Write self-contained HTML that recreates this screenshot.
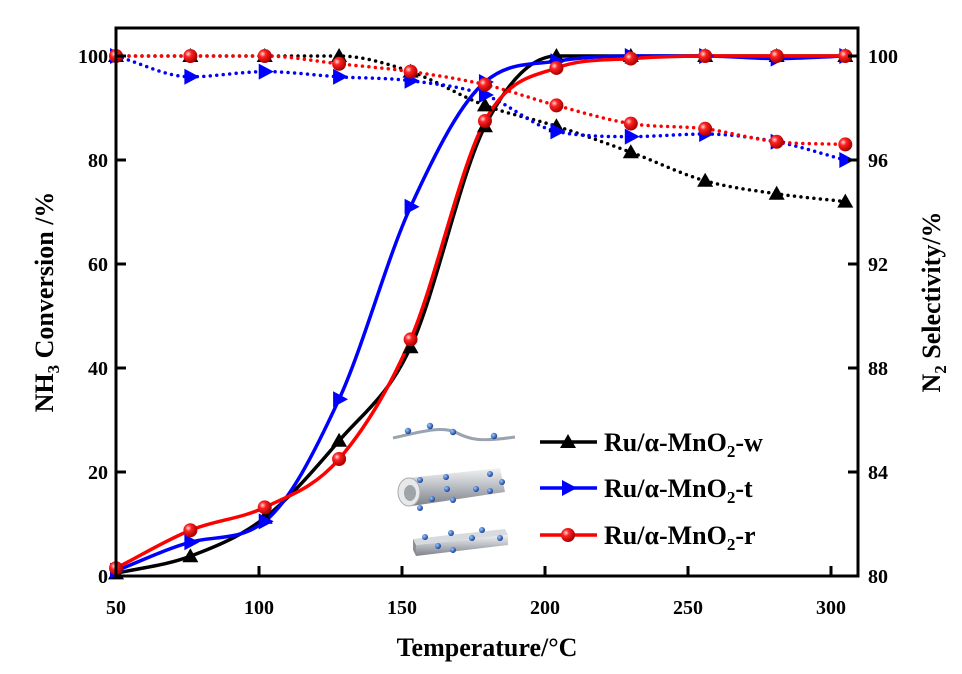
<!DOCTYPE html>
<html><head><meta charset="utf-8"><style>
body{margin:0;background:#fff}
svg text{font-family:"Liberation Serif",serif;font-weight:bold;fill:#000}
</style></head><body>
<svg id="c" width="962" height="669" viewBox="0 0 962 669">
<defs>
<radialGradient id="rg" cx="35%" cy="35%" r="65%"><stop offset="0" stop-color="#fdd"/><stop offset="0.35" stop-color="#f22"/><stop offset="1" stop-color="#a00"/></radialGradient>
<radialGradient id="bg" cx="35%" cy="35%" r="65%"><stop offset="0" stop-color="#9cf"/><stop offset="1" stop-color="#1a3f9a"/></radialGradient>
<linearGradient id="tube" x1="0" y1="0" x2="0" y2="1"><stop offset="0" stop-color="#f2f2f2"/><stop offset="0.5" stop-color="#b8bcc2"/><stop offset="1" stop-color="#7d8188"/></linearGradient>
</defs>
<g id="plot"></g>
</svg>
<script>
const temps=[50,76,102,128,153,179,204,230,256,281,305];
const convW=[0.5,3.8,11.2,26,44,86.5,100,100,100,100,100];
const convT=[1,6.5,10.5,34,71,95,99,100,100,99.5,100];
const convR=[1.5,8.8,13.2,22.5,45.5,87.5,97.7,99.5,100,100,100];
const selW=[100,100,100,100,99.4,98.1,97.3,96.3,95.2,94.7,94.4];
const selT=[100,99.2,99.4,99.2,99.05,98.5,97.1,96.9,97.0,96.7,96.0];
const selR=[100,100,100,99.7,99.4,98.9,98.1,97.4,97.2,96.7,96.6];
const xTicks=[50,100,150,200,250,300];
const yTicks=[0,20,40,60,80,100];
const y2Ticks=[80,84,88,92,96,100];
const legendLabels=["Ru/α-MnO","Ru/α-MnO","Ru/α-MnO"];
const legendSuffix=["-w","-t","-r"];

const L=116,R=858,T=28,B=576;
const sx=v=>116+(v-50)*(831-116)/250;
const sy=v=>B-v*5.2;
const sy2=v=>B-(v-80)*26;
const NS="http://www.w3.org/2000/svg";
const g=document.getElementById('plot');
function mk(tag,at,parent){const e=document.createElementNS(NS,tag);for(const k in at)e.setAttribute(k,at[k]);(parent||g).appendChild(e);return e;}
function smooth(pts){let d=`M${pts[0][0]},${pts[0][1]}`;for(let i=0;i<pts.length-1;i++){const p0=pts[i-1]||pts[i],p1=pts[i],p2=pts[i+1],p3=pts[i+2]||p2;const c1=[p1[0]+(p2[0]-p0[0])/6,p1[1]+(p2[1]-p0[1])/6],c2=[p2[0]-(p3[0]-p1[0])/6,p2[1]-(p3[1]-p1[1])/6];d+=`C${c1[0]},${c1[1]} ${c2[0]},${c2[1]} ${p2[0]},${p2[1]}`;}return d;}
// monotone cubic (Fritsch-Carlson) path, no overshoot
function monotone(pts){
  const n=pts.length,dx=[],m=[],t=[];
  for(let i=0;i<n-1;i++){dx[i]=pts[i+1][0]-pts[i][0];m[i]=(pts[i+1][1]-pts[i][1])/dx[i];}
  t[0]=m[0];t[n-1]=m[n-2];
  for(let i=1;i<n-1;i++){t[i]=(m[i-1]*m[i]<=0)?0:(m[i-1]+m[i])/2;}
  for(let i=0;i<n-1;i++){if(m[i]===0){t[i]=0;t[i+1]=0;continue;}const a=t[i]/m[i],b=t[i+1]/m[i],s=a*a+b*b;if(s>9){const k=3/Math.sqrt(s);t[i]=k*a*m[i];t[i+1]=k*b*m[i];}}
  let d=`M${pts[0][0]},${pts[0][1]}`;
  for(let i=0;i<n-1;i++){const h=dx[i]/3;d+=`C${pts[i][0]+h},${pts[i][1]+t[i]*h} ${pts[i+1][0]-h},${pts[i+1][1]-t[i+1]*h} ${pts[i+1][0]},${pts[i+1][1]}`;}
  return d;
}

function marker(type,x,y,color,name){
  let e;
  if(type==='tri'){e=mk('polygon',{points:`${x},${y-8} ${x-8},${y+6} ${x+8},${y+6}`,fill:'#000'});}
  else if(type==='rtri'){e=mk('polygon',{points:`${x+9},${y} ${x-6},${y-8} ${x-6},${y+8}`,fill:'#00f'});}
  else {e=mk('circle',{cx:x,cy:y,r:7,fill:'url(#rg)'});}
  
  
}
const series=[
 {c:convW,s:selW,col:'#000',m:'tri',n:'w'},
 {c:convT,s:selT,col:'#00f',m:'rtri',n:'t'},
 {c:convR,s:selR,col:'#f00',m:'circ',n:'r'}];
series.forEach(S=>{
  const p=mk('path',{d:monotone(temps.map((t,i)=>[sx(t),sy2(S.s[i])])),fill:'none',stroke:S.col,'stroke-width':3.5,'stroke-dasharray':'0 6.5','stroke-linecap':'round'});
  
  
});
series.forEach(S=>{
  const p=mk('path',{d:monotone(temps.map((t,i)=>[sx(t),sy(S.c[i])])),fill:'none',stroke:S.col,'stroke-width':3.5});
  
  
});
series.forEach(S=>{
  temps.forEach((t,i)=>{marker(S.m,sx(t),sy2(S.s[i]),S.col,'selectivity-point-'+S.n);});
  temps.forEach((t,i)=>{marker(S.m,sx(t),sy(S.c[i]),S.col,'conversion-point-'+S.n);});
});
const fr=mk('rect',{x:L,y:T,width:R-L,height:B-T,fill:'none',stroke:'#000','stroke-width':3});


xTicks.forEach(v=>{
  mk('line',{x1:sx(v),x2:sx(v),y1:B,y2:B-10,stroke:'#000','stroke-width':3});
  const t=mk('text',{x:sx(v),y:614,'text-anchor':'middle','font-size':20});t.textContent=v;
  
  
});
yTicks.forEach(v=>{
  mk('line',{x1:L,x2:L+10,y1:sy(v),y2:sy(v),stroke:'#000','stroke-width':3});
  const t=mk('text',{x:L-8,y:sy(v)+7,'text-anchor':'end','font-size':20});t.textContent=v;
  
  
});
y2Ticks.forEach(v=>{
  mk('line',{x1:R,x2:R-10,y1:sy2(v),y2:sy2(v),stroke:'#000','stroke-width':3});
  const t=mk('text',{x:R+10,y:sy2(v)+7,'font-size':20});t.textContent=v;
  
  
});
let t=mk('text',{x:487,y:656,'text-anchor':'middle','font-size':26});t.textContent='Temperature/°C';

t=mk('text',{transform:'translate(53,302) rotate(-90)','text-anchor':'middle','font-size':26});
t.innerHTML='NH<tspan font-size="17" dy="6">3</tspan><tspan dy="-6"> Conversion /%</tspan>';

t=mk('text',{transform:'translate(940,302) rotate(-90)','text-anchor':'middle','font-size':26});
t.innerHTML='N<tspan font-size="17" dy="6">2</tspan><tspan dy="-6"> Selectivity/%</tspan>';

const ly=[442,488,535];
series.forEach((S,i)=>{
  mk('line',{x1:540,x2:597,y1:ly[i],y2:ly[i],stroke:S.col,'stroke-width':3.5});
  marker(S.m,568,ly[i],S.col,'legend-marker-'+S.n);
  const tx=mk('text',{x:604,y:ly[i]+9,'font-size':26});
  tx.innerHTML=legendLabels[i]+'<tspan font-size="17" dy="6">2</tspan><tspan dy="-6">'+legendSuffix[i]+'</tspan>';
  
  
});
const il=mk('g',{});


mk('path',{d:'M393,438 C420,432 440,426 455,432 C470,440 480,442 515,437',fill:'none',stroke:'#9aa3b0','stroke-width':3},il);
[[408,431],[430,426],[453,432],[494,436]].forEach(p=>mk('circle',{cx:p[0],cy:p[1],r:3.2,fill:'url(#bg)'},il));
mk('polygon',{points:'408,478 500,468 505,492 412,506',fill:'url(#tube)'},il);
mk('ellipse',{cx:409,cy:492,rx:11,ry:14,fill:'#e6e8ea',stroke:'#aaa'},il);
mk('ellipse',{cx:410,cy:493,rx:6,ry:8,fill:'#9fa4aa'},il);
[[420,480],[446,477],[490,474],[502,482],[447,489],[476,489],[432,499],[453,500],[420,508],[490,491]].forEach(p=>mk('circle',{cx:p[0],cy:p[1],r:3,fill:'url(#bg)'},il));
mk('polygon',{points:'413,539 505,529 508,535 416,545',fill:'#d7dbe0'},il);
mk('polygon',{points:'413,539 416,545 416,556 413,550',fill:'#8a9098'},il);
mk('polygon',{points:'416,545 508,535 508,545 416,556',fill:'url(#tube)'},il);
[[425,537],[451,533],[482,530],[438,546],[472,538],[500,538],[453,550]].forEach(p=>mk('circle',{cx:p[0],cy:p[1],r:3,fill:'url(#bg)'},il));
</script>
</body></html>
